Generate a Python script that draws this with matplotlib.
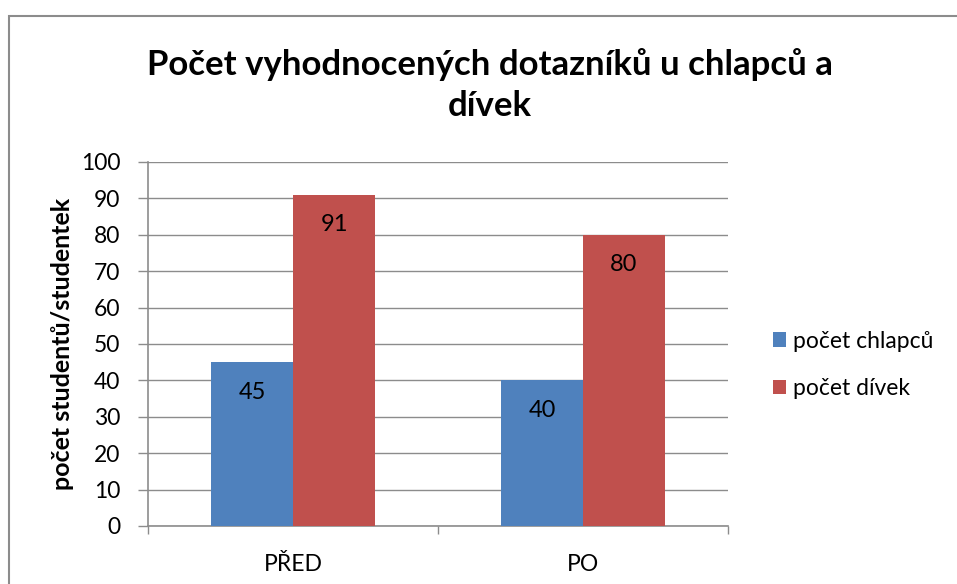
import matplotlib.pyplot as plt
from matplotlib.patches import Rectangle
import numpy as np

categories = ["PŘED", "PO"]
chlapci = [45, 40]
divky = [91, 80]
series_names = ["počet chlapců", "počet dívek"]
yticks = [0, 10, 20, 30, 40, 50, 60, 70, 80, 90, 100]

plt.rcParams['font.family'] = ['Lato', 'DejaVu Sans']

fig = plt.figure(figsize=(9.57, 5.84), dpi=100)
ax = fig.add_axes([148/957, 1-526/584, 580/957, 364/584])

# frame around the chart (right and bottom edges fall outside the picture)
fig.patches.append(Rectangle((9/957, -0.05), 1.0, 1.05-16/584, transform=fig.transFigure,
                             fill=False, edgecolor='#8c8c8c', linewidth=1.5))

x = np.arange(len(categories))
w = 0.283
b1 = ax.bar(x - w/2, chlapci, w, color='#4f81bd', label=series_names[0], zorder=3)
b2 = ax.bar(x + w/2, divky, w, color='#c0504d', label=series_names[1], zorder=3)

for bars in (b1, b2):
    for r in bars:
        ax.annotate(str(int(r.get_height())), (r.get_x() + r.get_width()/2, r.get_height()),
                    xytext=(0, -30), textcoords='offset pixels', ha='center', va='center',
                    fontsize=17, color='black', zorder=4)

ax.set_xlim(-0.5, 1.5)
ax.set_ylim(0, 100)
ax.set_yticks(yticks)
ax.set_yticklabels([str(t) for t in yticks], fontsize=16.5)
ax.yaxis.grid(True, color='#8c8c8c', linewidth=1, zorder=0)
ax.set_xticks(x)
ax.set_xticklabels(categories, fontsize=16.5)
ax.tick_params(axis='x', length=0, pad=20)
ax.set_xticks([-0.5, 0.5, 1.5], minor=True)
ax.tick_params(axis='x', which='minor', length=6, color='#8c8c8c', width=1)
ax.tick_params(axis='y', length=7, color='#8c8c8c', width=1, pad=13)
for s in ['top', 'right']:
    ax.spines[s].set_visible(False)
ax.spines['left'].set_color('#8c8c8c')
ax.spines['bottom'].set_color('#8c8c8c')
ax.spines['left'].set_linewidth(1.2)
ax.spines['bottom'].set_linewidth(1.2)

ax.set_ylabel("počet studentů/studentek", fontsize=18, fontweight='bold', labelpad=5)

fig.text(490/957, 1-85/584, "Počet vyhodnocených dotazníků u chlapců a\ndívek",
         ha='center', va='center', fontsize=25, fontweight='bold', linespacing=1.38)

ax.legend(loc='center left', bbox_to_anchor=(752/957, 1-365/584), bbox_transform=fig.transFigure,
          frameon=False, fontsize=16.5, handlelength=0.6, handleheight=0.6, handletextpad=0.3,
          labelspacing=1.15)

fig.savefig("out.png", dpi=100)
